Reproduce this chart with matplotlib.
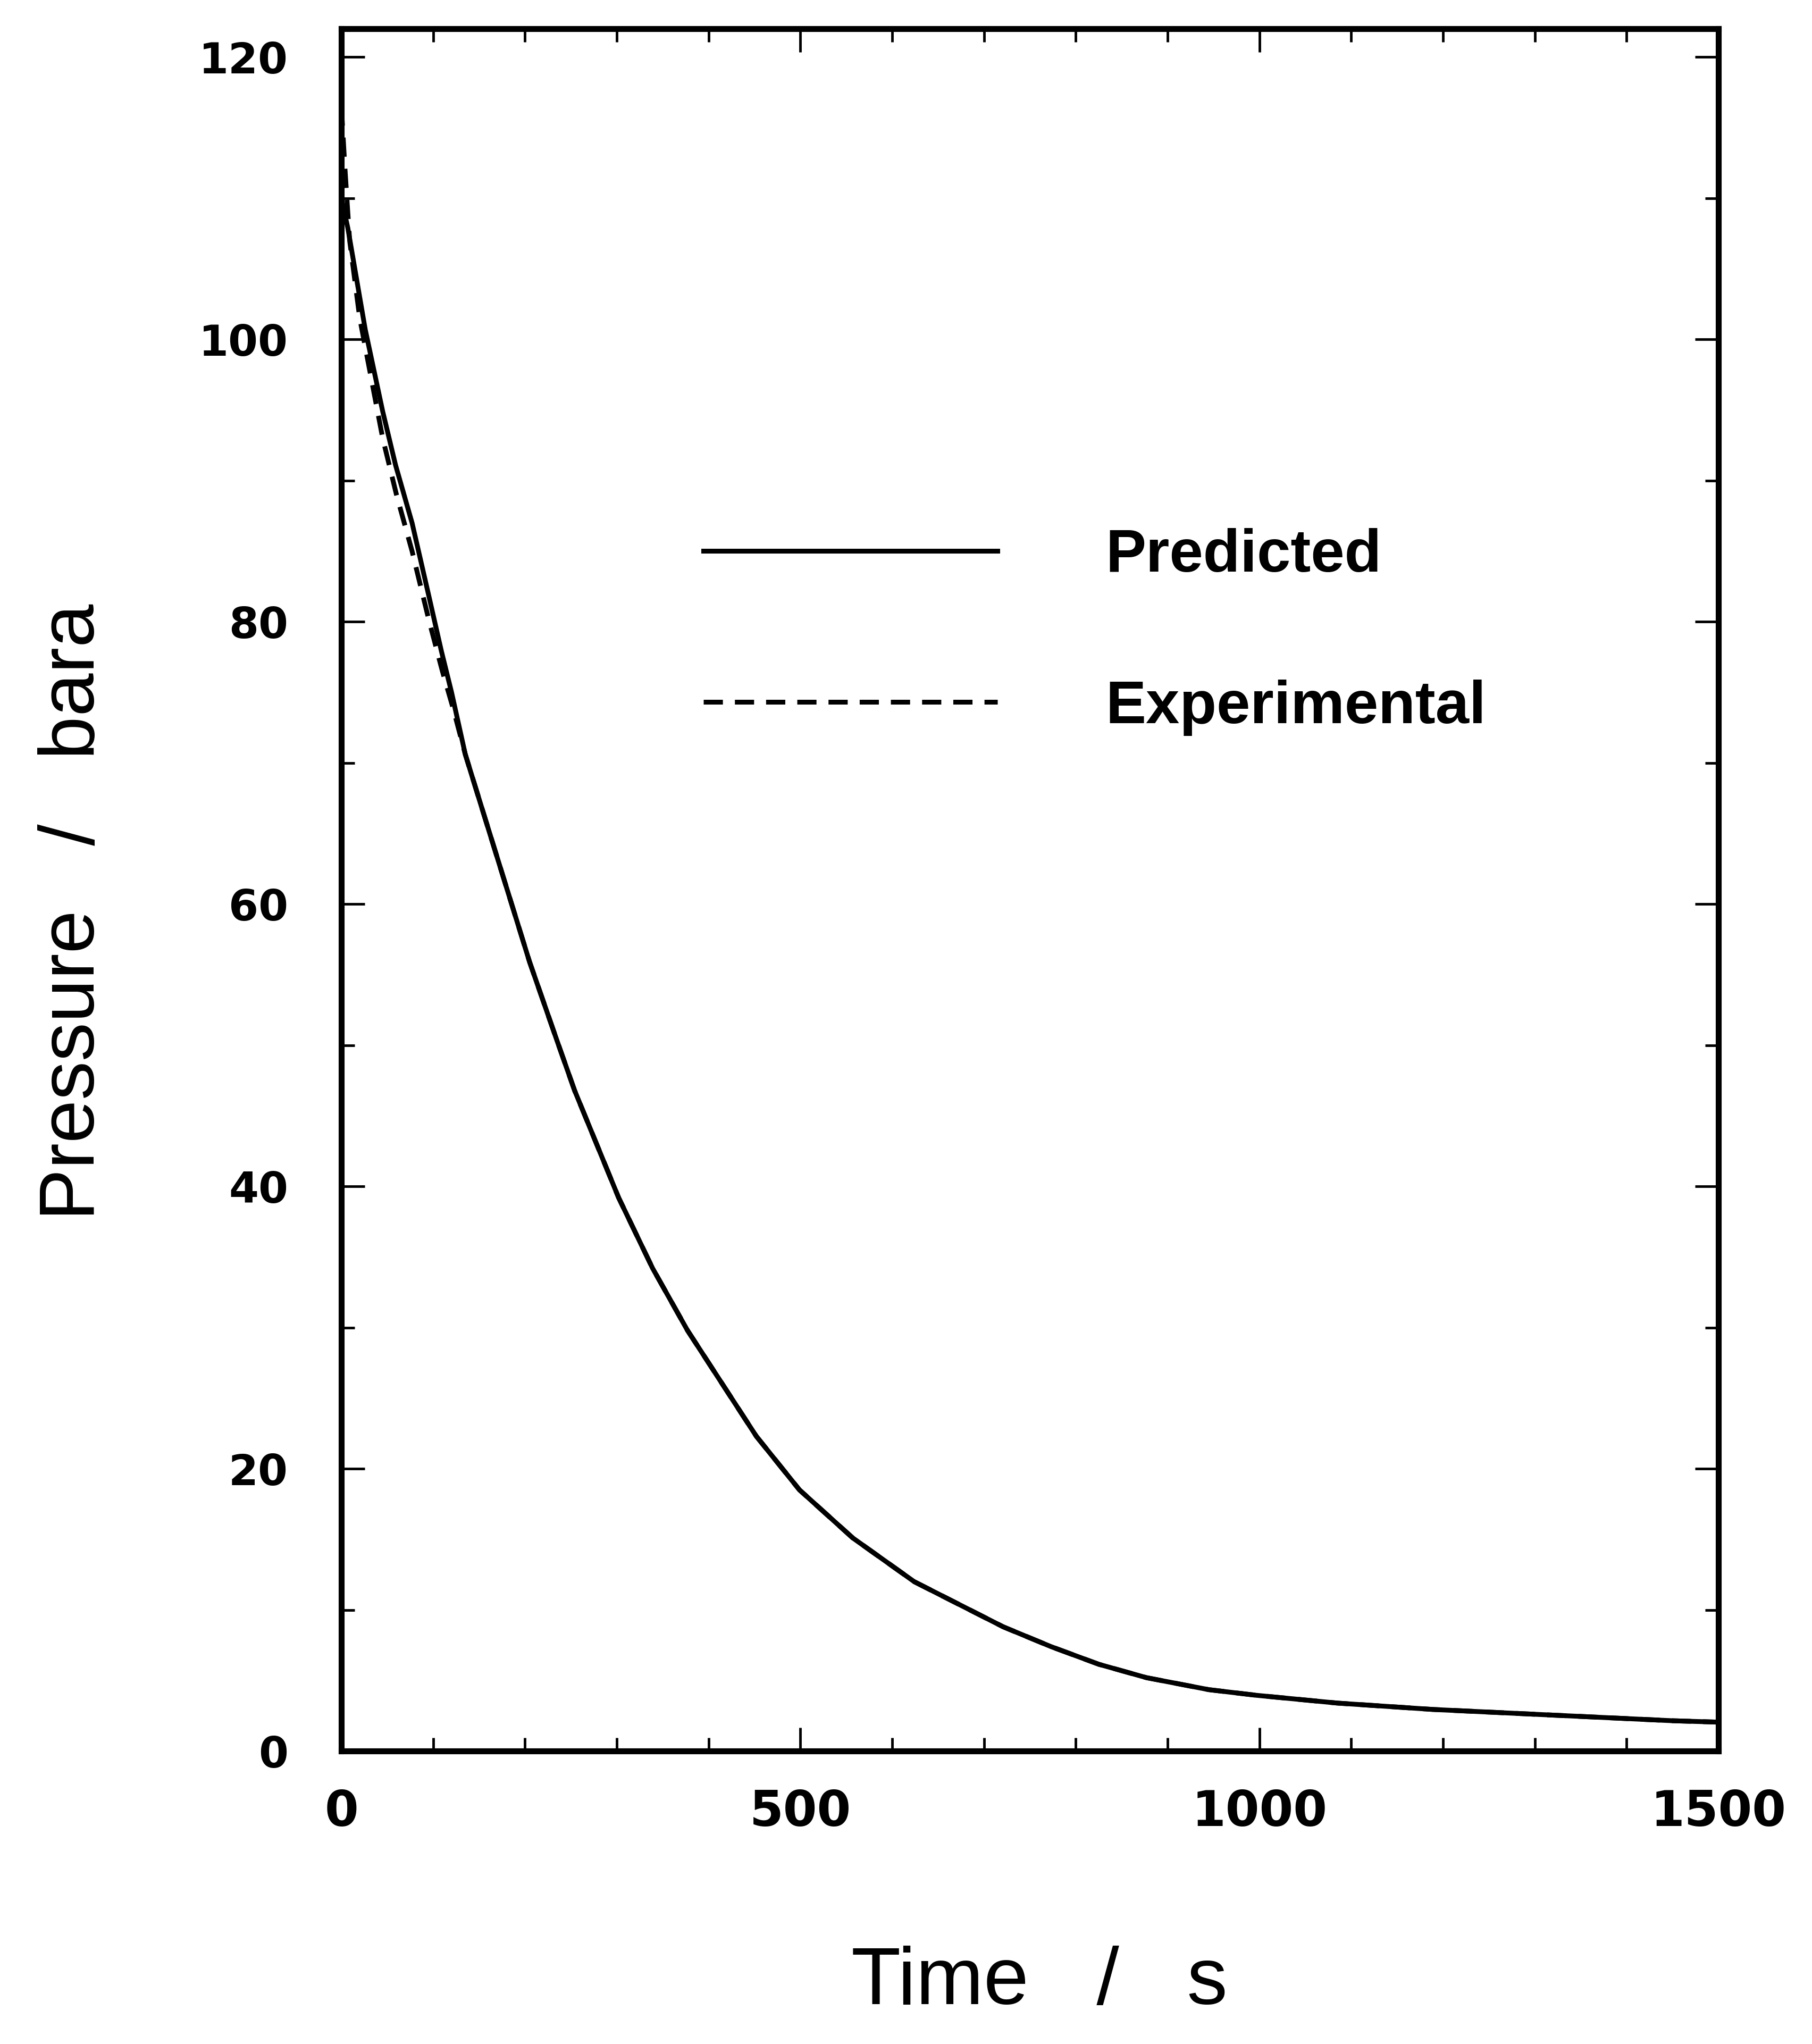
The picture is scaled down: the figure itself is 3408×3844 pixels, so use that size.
import matplotlib
matplotlib.use("Agg")
import matplotlib.pyplot as plt
from matplotlib.ticker import MultipleLocator

# ---- data ----
t_pred = [0, 7, 26, 45, 59, 77, 95, 109, 120, 135, 154, 205, 235, 254, 278,
          302, 339, 377, 414, 452, 499, 557, 624, 721, 773, 825, 877, 945,
          997, 1085, 1189, 1319, 1450, 1500]
p_pred = [110, 107.9, 100.7, 94.9, 91.1, 87.0, 81.9, 77.9, 75.0, 70.6, 66.6,
          55.9, 50.3, 46.8, 43.0, 39.2, 34.2, 29.8, 26.1, 22.3, 18.5, 15.1,
          12.0, 8.8, 7.4, 6.15, 5.2, 4.35, 3.95, 3.4, 2.95, 2.55, 2.15, 2.05]

t_exp = [0, 4, 9, 20, 45, 60, 77, 95, 110, 122, 135, 154, 205, 235, 254, 278,
         302, 339, 377, 414, 452, 499, 557, 624, 721, 773, 825, 877, 945,
         997, 1085, 1189, 1319, 1450, 1500]
p_exp = [116.5, 112, 107, 101.5, 93.0, 89.0, 85.0, 80.2, 76.5, 73.8, 70.6,
         66.6, 55.9, 50.3, 46.8, 43.0, 39.2, 34.2, 29.8, 26.1, 22.3, 18.5,
         15.1, 12.0, 8.8, 7.4, 6.15, 5.2, 4.35, 3.95, 3.4, 2.95, 2.55, 2.15,
         2.05]

x_ticks = [0, 500, 1000, 1500]
y_ticks = [0, 20, 40, 60, 80, 100, 120]
labels = ["Predicted", "Experimental"]

fig = plt.figure(figsize=(34.08, 38.44), dpi=100)
ax = fig.add_axes([0.1884, 0.1433, 0.760, 0.8426])

ax.plot(t_pred, p_pred, color="black", lw=6.5, solid_joinstyle="round",
        label=labels[0])
ax.plot(t_exp, p_exp, color="black", lw=6.5, linestyle=(0, (4, 2.5)),
        label=labels[1])

ax.set_xlim(0, 1500)
ax.set_ylim(0, 122)
ax.set_xticks(x_ticks)
ax.set_yticks(y_ticks)
ax.xaxis.set_minor_locator(MultipleLocator(100))
ax.yaxis.set_minor_locator(MultipleLocator(10))

for s in ax.spines.values():
    s.set_linewidth(8)

ax.tick_params(which="both", direction="in", top=True, right=True, width=3.5)
ax.tick_params(which="major", length=32)
ax.tick_params(which="minor", length=18)
ax.tick_params(axis="x", which="major", pad=50)
ax.tick_params(axis="y", which="major", pad=72)

ax.set_xticklabels([str(v) for v in x_ticks], fontsize=66, fontweight="bold",
                   family="DejaVu Sans")
ax.set_yticklabels([str(v) for v in y_ticks], fontsize=58, fontweight="bold",
                   family="DejaVu Sans")

ax.set_xlabel("Time   /   s", fontsize=110, family="Liberation Sans")
ax.xaxis.set_label_coords(0.507, -0.113)
ax.set_ylabel("Pressure   /   bara", fontsize=105, family="Liberation Sans")
ax.yaxis.set_label_coords(-0.168, 0.487)

ax.legend(loc="upper left", bbox_to_anchor=(0.263, 0.710), frameon=False,
          prop={"family": "Liberation Sans", "weight": "bold", "size": 82},
          handlelength=4.85, handletextpad=1.79, labelspacing=1.57,
          borderpad=0, borderaxespad=0)

fig.savefig("out.png", dpi=100, facecolor="white")
